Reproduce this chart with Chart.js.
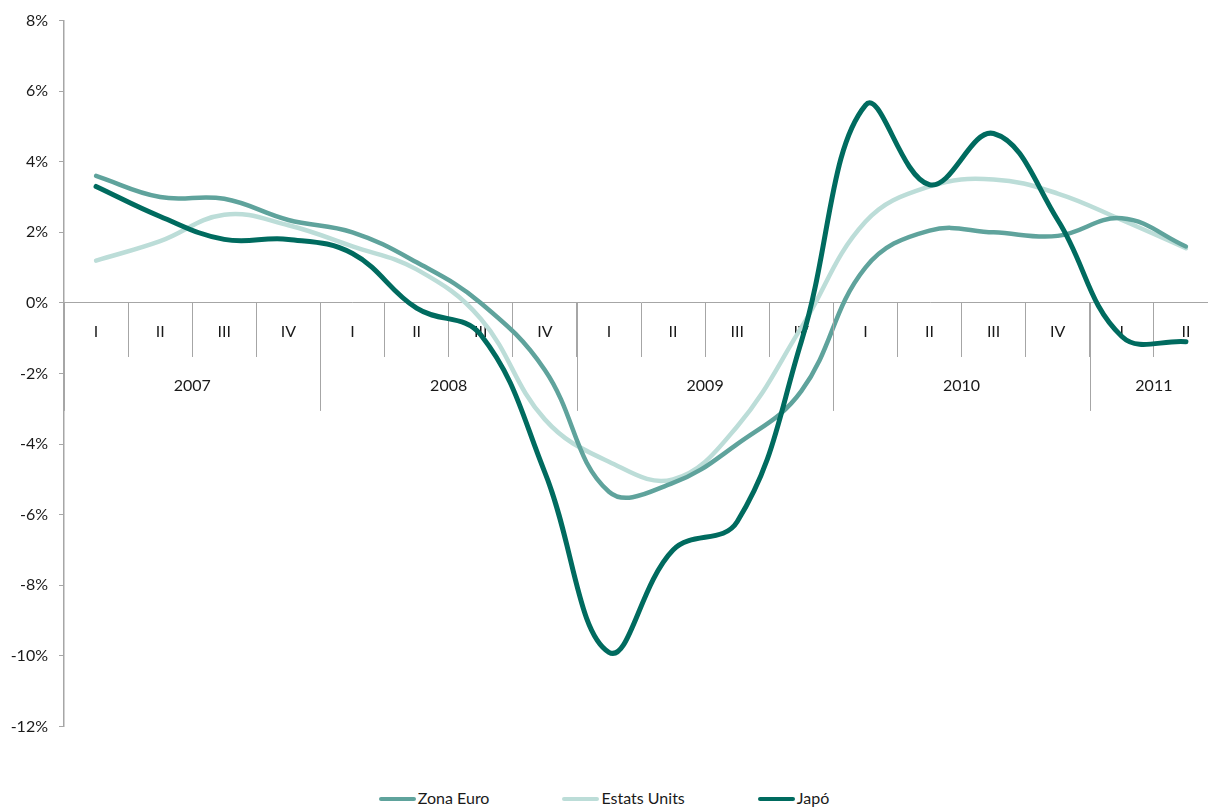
<!DOCTYPE html>
<html>
<head>
<meta charset="utf-8">
<script src="https://cdn.jsdelivr.net/npm/chart.js@4.4.1/dist/chart.umd.min.js"></script>
<style>
    body { margin: 0; background: #fff; overflow: hidden; width: 1208px; height: 810px; position: relative; }
    #wrap { position: absolute; left: 0; top: 0; width: 1220px; height: 747px; }
    #legend { position: absolute; left: 0; top: 788px; width: 1208px; display: flex; justify-content: center; gap: 73px; font-family: Lato, sans-serif; font-size: 16px; color: #1a1a1a; }
    #legend .item { display: flex; align-items: center; }
    #legend .line { width: 37px; height: 4px; border-radius: 2px; margin-right: 2px; margin-top: 2px; }
</style>
</head>
<body>
<div id="wrap"><canvas id="lineChart" width="1220" height="747"></canvas></div>
<div id="legend"></div>
<script>
// quarters 2007 I .. 2011 II
var quarters = ['I', 'II', 'III', 'IV', 'I', 'II', 'III', 'IV', 'I', 'II', 'III', 'IV', 'I', 'II', 'III', 'IV', 'I', 'II'];
var years = ['2007', '2008', '2009', '2010', '2011'];
var quartersPerYear = [4, 4, 4, 4, 2];

var zonaEuro = [3.6, 3.0, 2.95, 2.35, 2.0, 1.15, 0.0, -1.9, -5.35, -5.1, -4.0, -2.5, 1.0, 2.05, 2.0, 1.9, 2.4, 1.6];
var estatsUnits = [1.2, 1.75, 2.5, 2.2, 1.6, 0.95, -0.45, -3.3, -4.5, -5.0, -3.5, -0.7, 2.3, 3.3, 3.5, 3.1, 2.35, 1.55];
var japo = [3.3, 2.45, 1.8, 1.8, 1.4, -0.15, -0.9, -4.8, -9.9, -7.0, -6.2, -1.1, 5.6, 3.35, 4.8, 2.35, -0.95, -1.1];

var yTicks = { min: -12, max: 8, step: 2 };

var axisColor = '#a6a6a6';
var textColor = '#1a1a1a';
var fontFamily = 'Lato, sans-serif';

// year row under the quarter labels (separators + centred year text)
var yearRows = {
    id: 'yearRows',
    afterDraw: function(chart) {
        var x = chart.scales.x;
        var y0 = chart.scales.y.getPixelForValue(0);
        var ctx = chart.ctx;
        var idx = 0;
        ctx.save();
        ctx.strokeStyle = axisColor;
        ctx.lineWidth = 1;
        ctx.fillStyle = textColor;
        ctx.font = '16px ' + fontFamily;
        ctx.textAlign = 'center';
        ctx.textBaseline = 'middle';
        for (var i = 0; i < years.length; i++) {
            var first = idx;
            var last = idx + quartersPerYear[i] - 1;
            var half = (x.getPixelForValue(1) - x.getPixelForValue(0)) / 2;
            var left = Math.round(x.getPixelForValue(first) - half) + 0.5;
            ctx.beginPath();
            ctx.moveTo(left, y0);
            ctx.lineTo(left, y0 + 108);
            ctx.stroke();
            var cx = (x.getPixelForValue(first) + x.getPixelForValue(last)) / 2;
            ctx.fillText(years[i], cx, y0 + 83);
            idx = last + 1;
        }
        ctx.restore();
    }
};

function makeDataset(label, data, color, width) {
    return {
        label: label,
        data: data,
        borderColor: color,
        backgroundColor: color,
        borderWidth: width,
        pointRadius: 0,
        tension: 0.4,
        borderCapStyle: 'round',
        fill: false
    };
}

var datasets = [
    makeDataset('Zona Euro', zonaEuro, '#5fa39c', 4.5),
    makeDataset('Estats Units', estatsUnits, '#bcddd8', 4.5),
    makeDataset('Japó', japo, '#006b5f', 5)
];
// draw order: Japó on top
datasets[0].order = 2;
datasets[1].order = 3;
datasets[2].order = 1;

var ctxLine = document.getElementById('lineChart').getContext('2d');
var lineChart = new Chart(ctxLine, {
    type: 'line',
    data: {
        labels: quarters,
        datasets: datasets
    },
    plugins: [yearRows],
    options: {
        responsive: false,
        animation: false,
        layout: { padding: { left: 0, right: 2, top: 20, bottom: 14 } },
        plugins: {
            legend: { display: false },
            tooltip: { enabled: false }
        },
        scales: {
            x: {
                type: 'category',
                position: { y: 0 },
                offset: true,
                grid: {
                    offset: true,
                    drawOnChartArea: false,
                    tickLength: 54,
                    color: axisColor
                },
                border: { color: axisColor, width: 1 },
                ticks: {
                    color: textColor,
                    font: { family: fontFamily, size: 16 },
                    padding: -35,
                    maxRotation: 0,
                    autoSkip: false
                }
            },
            y: {
                min: yTicks.min,
                max: yTicks.max,
                afterFit: function(scale) { scale.width = 64; },
                grid: {
                    drawOnChartArea: false,
                    tickLength: 5,
                    color: axisColor
                },
                border: { color: axisColor, width: 1.5 },
                ticks: {
                    stepSize: yTicks.step,
                    padding: 11,
                    color: textColor,
                    font: { family: fontFamily, size: 16 },
                    callback: function(v) { return v + '%'; }
                }
            }
        }
    }
});

// legend in html, same order as the datasets
var legendDiv = document.getElementById('legend');
datasets.forEach(function(ds) {
    var item = document.createElement('div');
    item.className = 'item';
    item.innerHTML = '<span class="line" style="background:' + ds.borderColor + '"></span><span>' + ds.label + '</span>';
    legendDiv.appendChild(item);
});
</script>
</body>
</html>
